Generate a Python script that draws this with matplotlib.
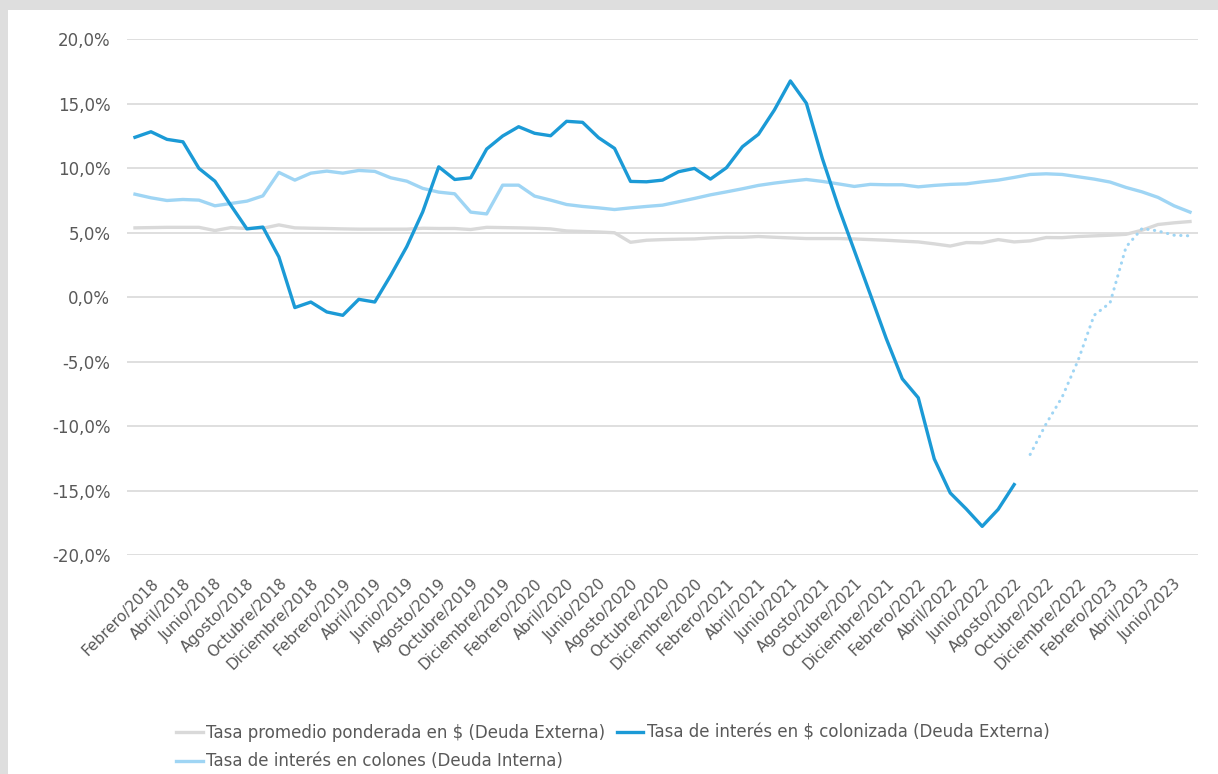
import matplotlib
matplotlib.use("Agg")
import matplotlib.pyplot as plt
from matplotlib.patches import Rectangle
from matplotlib.transforms import ScaledTranslation

plt.rcParams['font.family'] = ['DejaVu Sans']

# meses de enero/2018 a julio/2023
nombres_mes = ["Enero", "Febrero", "Marzo", "Abril", "Mayo", "Junio", "Julio",
               "Agosto", "Setiembre", "Octubre", "Noviembre", "Diciembre"]
anios = [2018, 2019, 2020, 2021, 2022, 2023]
n_meses = 67
meses = [f"{nombres_mes[k % 12]}/{anios[k // 12]}" for k in range(n_meses)]

# Tasa promedio ponderada en $ (Deuda Externa)
tasa_promedio = [5.36, 5.38, 5.40, 5.40, 5.40, 5.15, 5.38, 5.31, 5.33, 5.59,
                 5.36, 5.33, 5.31, 5.28, 5.26, 5.26, 5.26, 5.26, 5.33, 5.31,
                 5.31, 5.23, 5.40, 5.38, 5.36, 5.33, 5.28, 5.12, 5.08, 5.04,
                 4.98, 4.24, 4.40, 4.45, 4.48, 4.50, 4.58, 4.63, 4.63, 4.69,
                 4.63, 4.58, 4.53, 4.53, 4.53, 4.50, 4.45, 4.40, 4.33, 4.27,
                 4.12, 3.95, 4.22, 4.20, 4.45, 4.27, 4.35, 4.61, 4.60, 4.69,
                 4.74, 4.79, 4.86, 5.18, 5.62, 5.75, 5.85]

# Tasa de interés en $ colonizada (Deuda Externa), hasta julio/2022
tasa_colonizada = [12.38, 12.81, 12.22, 12.03, 9.97, 8.98, 7.10, 5.28, 5.42, 3.11,
                   -0.82, -0.39, -1.16, -1.42, -0.18, -0.39, 1.68, 3.90, 6.60, 10.09,
                   9.11, 9.24, 11.47, 12.48, 13.20, 12.69, 12.50, 13.62, 13.54, 12.35,
                   11.52, 8.96, 8.93, 9.06, 9.71, 9.97, 9.14, 10.02, 11.65, 12.61,
                   14.50, 16.75, 15.02, 10.74, 7.00, 3.60, 0.20, -3.23, -6.34, -7.81,
                   -12.55, -15.19, -16.43, -17.78, -16.46, -14.54]

# tramo punteado, agosto/2022 a julio/2023
tasa_colonizada_proy = [-12.21, -9.83, -7.76, -4.91, -1.42, -0.45, 3.88, 5.31,
                        5.12, 4.79, 4.74]

# Tasa de interés en colones (Deuda Interna)
tasa_colones = [7.97, 7.69, 7.48, 7.56, 7.51, 7.07, 7.25, 7.43, 7.84, 9.66,
                9.06, 9.60, 9.76, 9.60, 9.81, 9.74, 9.24, 8.98, 8.42, 8.13,
                8.00, 6.58, 6.44, 8.67, 8.67, 7.82, 7.51, 7.17, 7.02, 6.91,
                6.78, 6.91, 7.02, 7.12, 7.38, 7.64, 7.92, 8.15, 8.39, 8.65,
                8.83, 8.98, 9.11, 8.96, 8.77, 8.57, 8.73, 8.70, 8.70, 8.54,
                8.65, 8.73, 8.77, 8.93, 9.06, 9.27, 9.50, 9.55, 9.50, 9.32,
                9.14, 8.91, 8.49, 8.15, 7.72, 7.07, 6.58]

etiquetas_y = [-20, -15, -10, -5, 0, 5, 10, 15, 20]

gris = '#d9d9d9'
azul = '#1b9ad6'
celeste = '#9fd5f4'
texto = '#595959'

fig = plt.figure(figsize=(12.18, 7.74), dpi=100)
fig.patch.set_facecolor('#dedede')
fig.add_artist(Rectangle((8 / 1218, 0), 1, 1 - 10 / 774, transform=fig.transFigure,
                         facecolor='white', edgecolor='none', zorder=-5))

ax = fig.add_axes([127 / 1218, 1 - 555 / 774, 1071 / 1218, 516 / 774])
ax.set_facecolor('white')

x = list(range(n_meses))
x_col = x[:len(tasa_colonizada)]
x_proy = x[len(tasa_colonizada):]

l_gris, = ax.plot(x, tasa_promedio, color=gris, lw=2.4,
                  label='Tasa promedio ponderada en $ (Deuda Externa)', zorder=3)
l_cel, = ax.plot(x, tasa_colones, color=celeste, lw=2.4,
                 label='Tasa de interés en colones (Deuda Interna)', zorder=4)
ax.plot(x_proy, tasa_colonizada_proy, color=celeste, lw=2.2,
        linestyle=(0, (0.1, 2.1)), dash_capstyle='round', zorder=4)
l_azul, = ax.plot(x_col, tasa_colonizada, color=azul, lw=2.4,
                  label='Tasa de interés en $ colonizada (Deuda Externa)', zorder=5)

ax.set_xlim(-0.5, n_meses - 0.5)
ax.set_ylim(-20, 20)

ax.set_yticks(etiquetas_y)
ax.set_yticklabels([f"{v:.1f}%".replace('.', ',') for v in etiquetas_y])
ax.yaxis.grid(True, color=gris, lw=1.2)
ax.set_axisbelow(True)

ax.set_xticks(x[1::2])
ax.set_xticklabels(meses[1::2], rotation=45, ha='right', va='top',
                   rotation_mode='anchor')
for lab in ax.get_xticklabels():
    lab.set_transform(lab.get_transform() + ScaledTranslation(0.26, 0.04, fig.dpi_scale_trans))

ax.tick_params(axis='both', length=0, colors=texto)
ax.tick_params(axis='y', labelsize=12, pad=12)
ax.tick_params(axis='x', labelsize=11, pad=15)
for s in ax.spines.values():
    s.set_visible(False)

fig.legend([l_gris, l_cel, l_azul],
           [l_gris.get_label(), l_cel.get_label(), l_azul.get_label()],
           ncol=2, loc='upper left', bbox_to_anchor=(176 / 1218, 1 - 724 / 774),
           frameon=False, handlelength=1.6, handletextpad=0.2, columnspacing=0.7,
           labelspacing=0.62, borderaxespad=0, borderpad=0,
           prop={'size': 12}, labelcolor=texto)

fig.savefig('out.png', dpi=100, facecolor=fig.get_facecolor())
